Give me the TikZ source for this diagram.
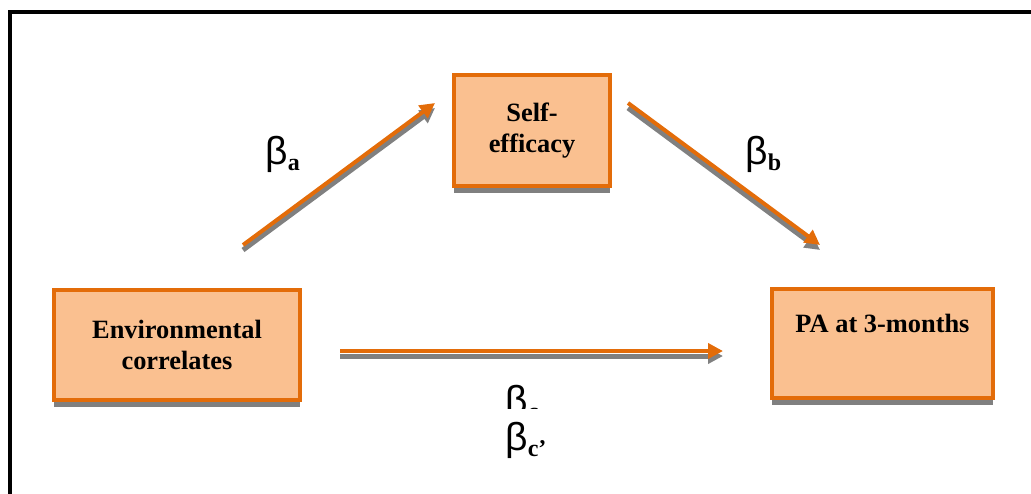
\documentclass[tikz,border=0pt]{standalone}
\usepackage{fontspec}
\setmainfont{Liberation Serif}
\newfontfamily\betafont{Liberation Sans}
\definecolor{medorange}{RGB}{227,108,9}
\definecolor{medpeach}{RGB}{250,192,144}
\definecolor{medshadow}{RGB}{128,128,128}
\usetikzlibrary{arrows.meta,positioning,calc,shadows}
\newcommand{\betalabel}[1]{{\betafont\mdseries\fontsize{19.5}{20}\selectfont β}\raisebox{-3pt}{\fontsize{12}{12}\selectfont\bfseries #1}}

\begin{document}
\begin{tikzpicture}[
  x=0.5pt, y=-0.5pt,
  every node/.style={font=\fontsize{13.2}{15.3}\selectfont\bfseries},
  factor/.style={draw=medorange,fill=medpeach,line width=2pt,align=center,inner sep=0pt,
                 drop shadow={shadow xshift=0pt,shadow yshift=-3.5pt,fill=medshadow,opacity=1}},
  link/.style={draw=medorange,line width=2pt,-{Triangle[length=7.5pt,width=7.5pt]},
               preaction={draw=medshadow,line width=2.5pt,transform canvas={yshift=-2.5pt}}},
  coef/.style={anchor=base west,inner sep=0pt},
]
  \useasboundingbox (0,0) rectangle (1031,493);

  % Frame
  \draw[line width=2pt] (10,500) -- (10,12) -- (1040,12);

  % Variables
  \node[factor,minimum width=78pt,minimum height=55.5pt] (selfeff) at (532,130.5)
    {Self-\\efficacy};
  \node[factor,minimum width=123pt,minimum height=55pt] (env) at (177,345)
    {Environmental\\correlates};
  \node[factor,minimum width=110.5pt,minimum height=54.5pt] (pa) at (882.5,343.5)
    {PA at 3-months\\\strut};

  % Paths
  \draw[link] ([shift={(-59,-43)}]env.north east) -- ([shift={(-17,30)}]selfeff.north west);
  \draw[link] ([shift={(16,30)}]selfeff.north east) -- ([shift={(50,-42)}]pa.north west);
  \draw[link] ([shift={(38,6)}]env.east) -- ([shift={(-47,7.5)}]pa.west);

  % Coefficients
  \node[coef] (ba) at (265,164) {\betalabel{a}};
  \node[coef] (bb) at (745,164) {\betalabel{b}};
  \begin{scope}
    \clip (480,370) rectangle (600,408);
    \node[coef] (bc) at (505,413) {\betalabel{c}};
  \end{scope}
  \node[coef] (bcp) at (505,450) {\betalabel{c’}};
\end{tikzpicture}
\end{document}
